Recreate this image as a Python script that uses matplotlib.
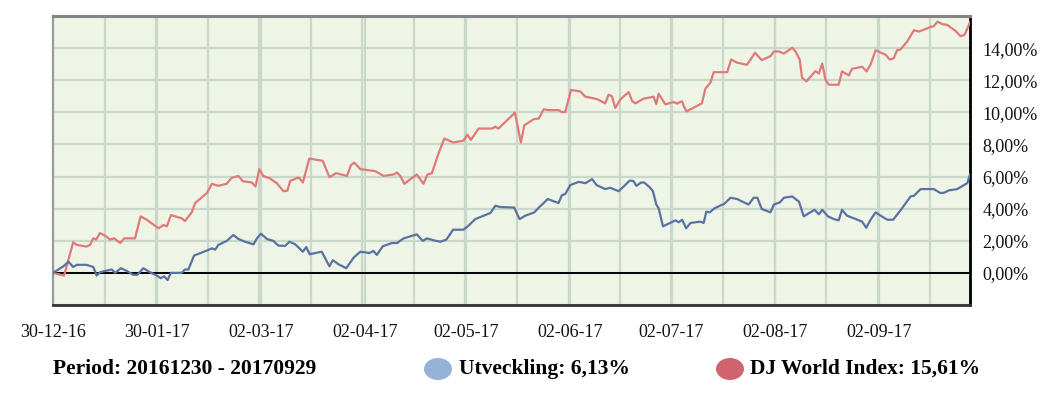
import numpy as np
import matplotlib
matplotlib.use("Agg")
import matplotlib.pyplot as plt
from matplotlib.patches import Ellipse
import datetime as dt

# ---------------- data ----------------
start_date = dt.date(2016, 12, 30)
end_date = dt.date(2017, 9, 29)

tick_labels = ["30-12-16", "30-01-17", "02-03-17", "02-04-17", "02-05-17",
               "02-06-17", "02-07-17", "02-08-17", "02-09-17"]

y_ticks = [0, 2, 4, 6, 8, 10, 12, 14]

# DJ World Index (days since 30-12-16, value in %)
dj_days = [0, 3.3, 6.0, 7.1, 10.0, 11.0, 12.0, 12.8, 14.0, 15.8, 17.0, 18.2, 20.0,
           21.2, 24.4, 26.1, 27.9, 31.4, 32.9, 33.9, 35.1, 38.3, 39.3, 41.3, 42.3,
           45.8, 47.3, 49.2, 51.7, 53.2, 55.2, 56.5, 59.2, 60.3, 61.4, 62.6, 64.6,
           66.6, 68.6, 69.8, 70.6, 73.1, 74.4, 76.3, 80.3, 82.3, 84.3, 87.5, 88.7,
           89.7, 91.5, 95.9, 98.4, 101.4, 102.4, 103.4, 104.6, 108.3, 110.3, 111.5,
           112.8, 114.8, 116.5, 119.2, 122.2, 123.4, 124.4, 126.7, 130.7, 131.7,
           132.6, 136.4, 137.5, 139.3, 140.3, 143.1, 144.6, 146.1, 147.5, 150.5,
           151.5, 152.5, 154.2, 157.0, 158.5, 160.5, 162.1, 164.4, 165.4, 166.4,
           167.4, 168.9, 171.4, 172.4, 173.4, 175.8, 178.8, 179.6, 180.3, 182.3,
           184.8, 185.8, 186.6, 187.3, 187.8, 188.6, 193.2, 194.2, 195.7, 196.7,
           200.7, 201.9, 203.7, 206.6, 209.0, 211.0, 213.6, 214.6, 216.1, 217.6,
           220.1, 221.0, 222.3, 223.0, 224.3, 227.0, 228.0, 229.0, 230.0, 231.0,
           233.9, 234.9, 236.9, 237.9, 240.9, 242.2, 243.4, 244.9, 247.9, 249.1,
           250.3, 251.3, 252.3, 254.3, 256.3, 257.8, 261.3, 262.2, 263.3, 264.8,
           266.2, 268.7, 270.2, 271.4, 273]
dj_vals = [0, -0.17, 1.90, 1.74, 1.64, 1.74, 2.15, 2.07, 2.48, 2.28, 2.07, 2.15, 1.86,
           2.15, 2.15, 3.52, 3.31, 2.78, 2.98, 2.90, 3.60, 3.40, 3.23, 3.77, 4.35,
           4.97, 5.55, 5.42, 5.55, 5.92, 6.04, 5.71, 5.63, 5.38, 6.46, 6.04, 5.88,
           5.59, 5.09, 5.12, 5.73, 5.94, 5.63, 7.12, 6.98, 5.96, 6.21, 6.04, 6.71,
           6.87, 6.46, 6.34, 6.04, 6.13, 6.25, 6.04, 5.55, 6.13, 5.55, 6.13,
           6.21, 7.45, 8.37, 8.12, 8.24, 8.61, 8.28, 8.99, 8.99, 9.11,
           8.99, 9.75, 9.98, 8.12, 9.19, 9.57, 9.61, 10.19, 10.14, 10.14,
           10.02, 10.02, 11.39, 11.30, 10.97, 10.89, 10.81, 10.56, 11.10, 11.01,
           10.27, 10.81, 11.26, 10.70, 10.56, 10.85, 10.97, 10.52, 11.16, 10.50,
           10.64, 10.54, 10.64, 10.68, 10.39, 10.06, 10.56, 11.47, 11.84, 12.50,
           12.50, 13.29, 13.09, 12.96, 13.71, 13.25, 13.50, 13.79, 13.79, 13.66,
           14.02, 13.81, 13.29, 12.15, 11.93, 12.57, 12.42, 13.04, 12.01, 11.72,
           11.72, 12.55, 12.30, 12.71, 12.84, 12.55, 12.98, 13.87, 13.58, 13.29,
           13.37, 13.87, 13.91, 14.41, 15.11, 15.03, 15.32, 15.36, 15.65, 15.49,
           15.45, 15.07, 14.74, 14.83, 15.61]

# Utveckling (days since 30-12-16, value in %)
ut_days = [0, 3.1, 4.6, 6.0, 7.1, 10.0, 12.0, 13.0, 14.0, 15.5, 17.5, 18.5, 20.2,
           22.0, 23.9, 25.1, 26.9, 28.9, 30.9, 32.1, 33.1, 34.1, 35.1, 38.3, 39.3,
           40.3, 42.0, 45.8, 47.3, 48.3, 49.2, 51.7, 53.7, 55.2, 57.2, 59.7, 60.7,
           61.9, 63.7, 65.6, 67.1, 69.1, 70.4, 72.1, 74.4, 75.4, 76.4, 80.0, 82.3,
           83.3, 85.0, 87.3, 89.5, 91.5, 94.2, 95.4, 96.4, 98.2, 100.9, 102.4,
           104.4, 108.3, 110.1, 111.3, 113.3, 115.3, 117.1, 119.1, 122.2, 123.7,
           125.7, 130.2, 131.7, 133.2, 137.3, 138.9, 140.6, 143.3, 144.6, 147.3,
           150.5, 151.5, 152.5, 154.0, 156.5, 158.5, 160.5, 161.8, 164.4, 165.9,
           168.4, 169.9, 171.7, 172.8, 173.7, 175.1, 176.0, 177.6, 178.6, 179.6,
           180.3, 181.6, 185.3, 186.3, 187.3, 188.5, 189.8, 192.7, 193.7, 194.5,
           195.5, 196.9, 199.9, 201.7, 203.7, 204.6, 207.1, 208.6, 209.7, 211.0,
           213.6, 214.6, 216.4, 217.6, 220.1, 222.1, 223.5, 226.7, 228.0, 229.0,
           230.7, 232.5, 233.9, 234.9, 236.4, 238.4, 240.9, 242.1, 243.4, 244.9,
           246.4, 248.4, 250.1, 252.3, 255.3, 256.3, 258.3, 262.2, 264.2, 265.4,
           266.7, 269.2, 272.2, 273]
ut_vals = [0, 0.41, 0.70, 0.37, 0.50, 0.50, 0.37, -0.17, 0.04, 0.12, 0.21, 0.0, 0.29,
           0.12, -0.12, -0.12, 0.29, 0.04, -0.17, -0.33, -0.21, -0.45, 0.0, 0.0, 0.21,
           0.21, 1.08, 1.39, 1.53, 1.45, 1.74, 1.99, 2.36, 2.11, 1.94, 1.78, 2.15,
           2.44, 2.11, 1.99, 1.70, 1.68, 1.94, 1.78, 1.32, 1.61, 1.16, 1.32, 0.41,
           0.79, 0.54, 0.29, 0.95, 1.32, 1.24, 1.37, 1.12, 1.66, 1.86, 1.86,
           2.15, 2.40, 1.99, 2.15, 2.03, 1.94, 2.07, 2.69, 2.69, 2.94,
           3.35, 3.73, 4.18, 4.10, 4.07, 3.35, 3.56, 3.77, 4.06, 4.60,
           4.35, 4.84, 4.91, 5.47, 5.67, 5.59, 5.84, 5.47, 5.22, 5.30,
           5.09, 5.38, 5.75, 5.72, 5.42, 5.63, 5.63, 5.34, 5.09, 4.26,
           4.02, 2.90, 3.27, 3.15, 3.31, 2.78, 3.11, 3.19, 3.11, 3.81,
           3.77, 4.02, 4.31, 4.68, 4.60, 4.50, 4.26, 4.68, 4.68, 3.98,
           3.77, 4.26, 4.39, 4.68, 4.76, 4.43, 3.52, 3.93, 3.65, 3.93,
           3.52, 3.35, 3.27, 3.93, 3.56, 3.40, 3.19, 2.81, 3.31, 3.77,
           3.56, 3.31, 3.31, 3.89, 4.76, 4.80, 5.22, 5.22, 4.97, 5.00,
           5.14, 5.22, 5.59, 6.13]

period_text = "Period: 20161230 - 20170929"
ut_label = "Utveckling: 6,13%"
dj_label = "DJ World Index: 15,61%"

# ---------------- plot ----------------
serif = ["Liberation Serif", "DejaVu Serif"]
plt.rcParams["font.family"] = serif

fig = plt.figure(figsize=(10.63, 3.97), dpi=100)
ax = fig.add_axes([53 / 1063, 1 - 305 / 397, (970 - 53) / 1063, (305 - 16) / 397])
ax.set_facecolor("#eef5e6")

total_days = (end_date - start_date).days
ax.set_xlim(0, total_days)
ax.set_ylim(-2, 16)

# x ticks at labelled dates
def to_day(s):
    d = dt.datetime.strptime(s, "%d-%m-%y").date()
    return (d - start_date).days

tick_pos = [to_day(s) for s in tick_labels]
ax.set_xticks(tick_pos)
ax.set_xticklabels(tick_labels, fontsize=13)

# regular vertical grid
grid_c = "#c9d8cb"
for x in np.arange(15.35, total_days, 15.35):
    ax.axvline(x, color=grid_c, lw=1.6, zorder=1)
for x in tick_pos[1:]:
    ax.axvline(x, color=grid_c, lw=1.6, zorder=1)
for y in np.arange(-2, 16.1, 2):
    ax.axhline(y, color=grid_c, lw=1.6, zorder=1)

ax.axhline(0, color="black", lw=1.4, zorder=2)

ax.yaxis.tick_right()
ax.set_yticks(y_ticks)
ax.set_yticklabels([f"{v:.2f}".replace(".", ",") + "%" for v in y_ticks], fontsize=13)
ax.tick_params(axis="both", length=0, colors="#111111")
ax.tick_params(axis="x", pad=14)
ax.tick_params(axis="y", pad=9)

ax.plot(dj_days, dj_vals, color="#e07a78", lw=1.6, zorder=3)
ax.plot(ut_days, ut_vals, color="#5a72a2", lw=1.6, zorder=4)

ax.spines["top"].set_color("#848484")
ax.spines["top"].set_linewidth(2.2)
ax.spines["left"].set_color("#9a9a9a")
ax.spines["left"].set_linewidth(1.6)
ax.spines["bottom"].set_color("#333333")
ax.spines["bottom"].set_linewidth(2.0)
ax.spines["right"].set_color("#000000")
ax.spines["right"].set_linewidth(2.0)

# legend row
W, H = 1063, 397
ly = 1 - 369 / H
fig.text(53 / W, ly, period_text, fontsize=15.5, fontweight="bold", va="center", ha="left")
fig.patches.append(Ellipse((438 / W, ly), 28 / W, 22 / H, transform=fig.transFigure,
                           facecolor="#95b3d7", edgecolor="none"))
fig.text(459 / W, ly, ut_label, fontsize=15.5, fontweight="bold", va="center", ha="left")
fig.patches.append(Ellipse((730 / W, ly), 28 / W, 22 / H, transform=fig.transFigure,
                           facecolor="#d0646e", edgecolor="none"))
fig.text(750 / W, ly, dj_label, fontsize=15.5, fontweight="bold", va="center", ha="left")

fig.savefig("out.png", dpi=100)
